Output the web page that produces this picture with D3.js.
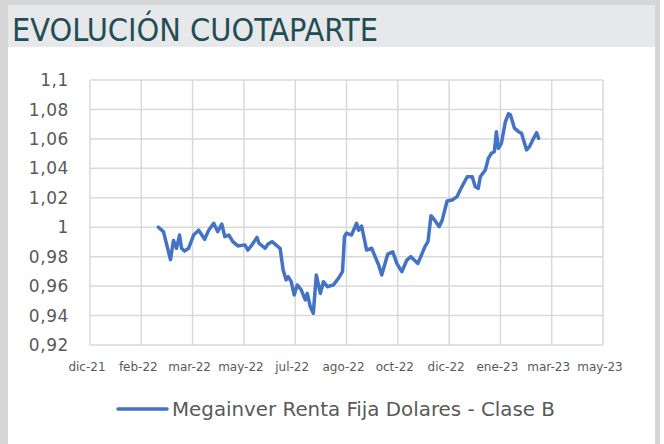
<!DOCTYPE html>
<html>
<head>
<meta charset="utf-8">
<script src="https://cdn.jsdelivr.net/npm/d3@7"></script>
<style>
  body { margin: 0; background: #fff; }
  svg { display: block; }
</style>
</head>
<body>
<div id="chart"></div>
<script>
// valores
var fechas = ["2022-02-21", "2022-02-26", "2022-03-05", "2022-03-08", "2022-03-11", "2022-03-14", "2022-03-16",
    "2022-03-19", "2022-03-23", "2022-03-28", "2022-04-02", "2022-04-08", "2022-04-12", "2022-04-17", "2022-04-21",
    "2022-04-25", "2022-04-28", "2022-05-02", "2022-05-06", "2022-05-11", "2022-05-18", "2022-05-21", "2022-05-25",
    "2022-05-30", "2022-06-01", "2022-06-07", "2022-06-10", "2022-06-14", "2022-06-19", "2022-06-22", "2022-06-25",
    "2022-06-28", "2022-06-30", "2022-07-03", "2022-07-06", "2022-07-09", "2022-07-13", "2022-07-17", "2022-07-19",
    "2022-07-22", "2022-07-25", "2022-07-28", "2022-08-01", "2022-08-04", "2022-08-08", "2022-08-14", "2022-08-19",
    "2022-08-23", "2022-08-25", "2022-08-27", "2022-09-01", "2022-09-06", "2022-09-08", "2022-09-11", "2022-09-14",
    "2022-09-16", "2022-09-21", "2022-09-28", "2022-10-01", "2022-10-07", "2022-10-12", "2022-10-16", "2022-10-21",
    "2022-10-26", "2022-10-30", "2022-11-06", "2022-11-13", "2022-11-16", "2022-11-19", "2022-11-23", "2022-11-27",
    "2022-11-30", "2022-12-05", "2022-12-10", "2022-12-15", "2022-12-18", "2022-12-25", "2022-12-30", "2023-01-02",
    "2023-01-05", "2023-01-07", "2023-01-12", "2023-01-15", "2023-01-18", "2023-01-21", "2023-01-23", "2023-01-25",
    "2023-01-28", "2023-02-01", "2023-02-04", "2023-02-06", "2023-02-10", "2023-02-14", "2023-02-17", "2023-02-22",
    "2023-02-25", "2023-03-01", "2023-03-04", "2023-03-06"];

var cuotaparte = [1.000, 0.997, 0.978, 0.991, 0.9857, 0.9947, 0.9857,
    0.9838, 0.9857, 0.9947, 0.998, 0.9918, 0.998, 1.0027, 0.997,
    1.0022, 0.9936, 0.9947, 0.9902, 0.9873, 0.988, 0.9845, 0.988,
    0.9931, 0.9891, 0.9857, 0.9886, 0.9902, 0.9873, 0.9857, 0.971,
    0.9642, 0.9664, 0.963, 0.954, 0.9608, 0.9574, 0.9506, 0.9551,
    0.946, 0.9415, 0.9675, 0.955, 0.963, 0.9596, 0.9608, 0.9653,
    0.9698, 0.9936, 0.996, 0.9947, 1.0027, 0.998, 1.0008, 0.991,
    0.9845, 0.9857, 0.9743, 0.9675, 0.9817, 0.9833, 0.9754, 0.9698,
    0.9777, 0.980, 0.9754, 0.9868, 0.9902, 1.0078, 1.0045, 1.0004,
    1.0045, 1.0178, 1.0185, 1.0208, 1.0253, 1.0343, 1.0343, 1.0275,
    1.0264, 1.0343, 1.0389, 1.0468, 1.0502, 1.0513, 1.0649, 1.0536,
    1.057, 1.0718, 1.077, 1.0763, 1.0673, 1.0649, 1.0638, 1.0525,
    1.0548, 1.0604, 1.0642, 1.0604];

var x_tick_fechas = ["2021-12-15", "2022-02-04", "2022-03-27", "2022-05-17", "2022-07-07", "2022-08-27",
    "2022-10-17", "2022-12-07", "2023-01-27", "2023-03-19", "2023-05-09"];
var x_tick_labels = ["dic-21", "feb-22", "mar-22", "may-22", "jul-22", "ago-22",
    "oct-22", "dic-22", "ene-23", "mar-23", "may-23"];
var y_ticks = [0.92, 0.94, 0.96, 0.98, 1, 1.02, 1.04, 1.06, 1.08, 1.1];
var y_tick_labels = ["0,92", "0,94", "0,96", "0,98", "1", "1,02", "1,04", "1,06", "1,08", "1,1"];

var titulo = "EVOLUCIÓN CUOTAPARTE";
var serie_nombre = "Megainver Renta Fija Dolares - Clase B";

var W = 664, H = 444;
var plot = { left: 90, right: 603, top: 80, bottom: 345 };
var parseFecha = d3.timeParse("%Y-%m-%d");

var datos = fechas.map(function (f, i) {
    return { fecha: parseFecha(f), valor: cuotaparte[i] };
});

var svg = d3.select("#chart")
    .append("svg")
    .attr("width", W)
    .attr("height", H);

// marco gris y banda del titulo
svg.append("rect")
    .attr("x", 0).attr("y", 0)
    .attr("width", 660).attr("height", H)
    .attr("fill", "#d6d6d6");
svg.append("rect")
    .attr("x", 8).attr("y", 5)
    .attr("width", 647).attr("height", 42)
    .attr("fill", "#e7e8e9");
svg.append("rect")
    .attr("x", 8).attr("y", 47)
    .attr("width", 647).attr("height", H - 47)
    .attr("fill", "#ffffff");

var title = svg.append("text")
    .attr("x", 12)
    .attr("y", 41)
    .attr("font-family", "'DejaVu Sans Condensed', 'DejaVu Sans', sans-serif")
    .attr("font-stretch", "condensed")
    .attr("font-size", 32)
    .attr("fill", "#1f4e56")
    .text(titulo);
// ajusta el ancho al del original
var tw = title.node().getComputedTextLength();
title.attr("font-size", 32 * 366 / tw);

var x = d3.scaleTime()
    .domain([parseFecha(x_tick_fechas[0]), parseFecha(x_tick_fechas[x_tick_fechas.length - 1])])
    .range([plot.left, plot.right]);

var y = d3.scaleLinear()
    .domain([y_ticks[0], y_ticks[y_ticks.length - 1]])
    .range([plot.bottom, plot.top]);

// grilla
svg.append("g")
    .selectAll("line")
    .data(y_ticks)
    .enter().append("line")
    .attr("x1", plot.left).attr("x2", plot.right)
    .attr("y1", function (d) { return y(d); })
    .attr("y2", function (d) { return y(d); })
    .attr("stroke", "#d9d9d9")
    .attr("stroke-width", 1.5);

svg.append("g")
    .selectAll("line")
    .data(x_tick_fechas)
    .enter().append("line")
    .attr("x1", function (d) { return x(parseFecha(d)); })
    .attr("x2", function (d) { return x(parseFecha(d)); })
    .attr("y1", plot.top).attr("y2", plot.bottom)
    .attr("stroke", "#d9d9d9")
    .attr("stroke-width", 1.5);

// etiquetas de ejes
svg.append("g")
    .selectAll("text")
    .data(y_ticks)
    .enter().append("text")
    .attr("x", 69)
    .attr("y", function (d) { return y(d); })
    .attr("dy", "0.36em")
    .attr("text-anchor", "end")
    .attr("font-family", "'DejaVu Sans', sans-serif")
    .attr("font-size", 17)
    .attr("letter-spacing", 0.6)
    .attr("fill", "#595959")
    .text(function (d, i) { return y_tick_labels[i]; });

svg.append("g")
    .selectAll("text")
    .data(x_tick_fechas)
    .enter().append("text")
    .attr("x", function (d) { return x(parseFecha(d)) - 3; })
    .attr("y", 371)
    .attr("text-anchor", "middle")
    .attr("font-family", "'DejaVu Sans', sans-serif")
    .attr("font-size", 12)
    .attr("fill", "#595959")
    .text(function (d, i) { return x_tick_labels[i]; });

// serie
var linea = d3.line()
    .x(function (d) { return x(d.fecha); })
    .y(function (d) { return y(d.valor); });

svg.append("path")
    .datum(datos)
    .attr("d", linea)
    .attr("fill", "none")
    .attr("stroke", "#4472c4")
    .attr("stroke-width", 3.5)
    .attr("stroke-linejoin", "round")
    .attr("stroke-linecap", "round");

// leyenda
svg.append("line")
    .attr("x1", 118).attr("x2", 167)
    .attr("y1", 409).attr("y2", 409)
    .attr("stroke", "#4472c4")
    .attr("stroke-width", 3.5)
    .attr("stroke-linecap", "round");

var leyenda = svg.append("text")
    .attr("x", 172)
    .attr("y", 416)
    .attr("font-family", "'DejaVu Sans', sans-serif")
    .attr("font-size", 17)
    .attr("fill", "#595959")
    .text(serie_nombre);
var lw = leyenda.node().getComputedTextLength();
leyenda.attr("font-size", 17 * 383 / lw);
</script>
</body>
</html>
